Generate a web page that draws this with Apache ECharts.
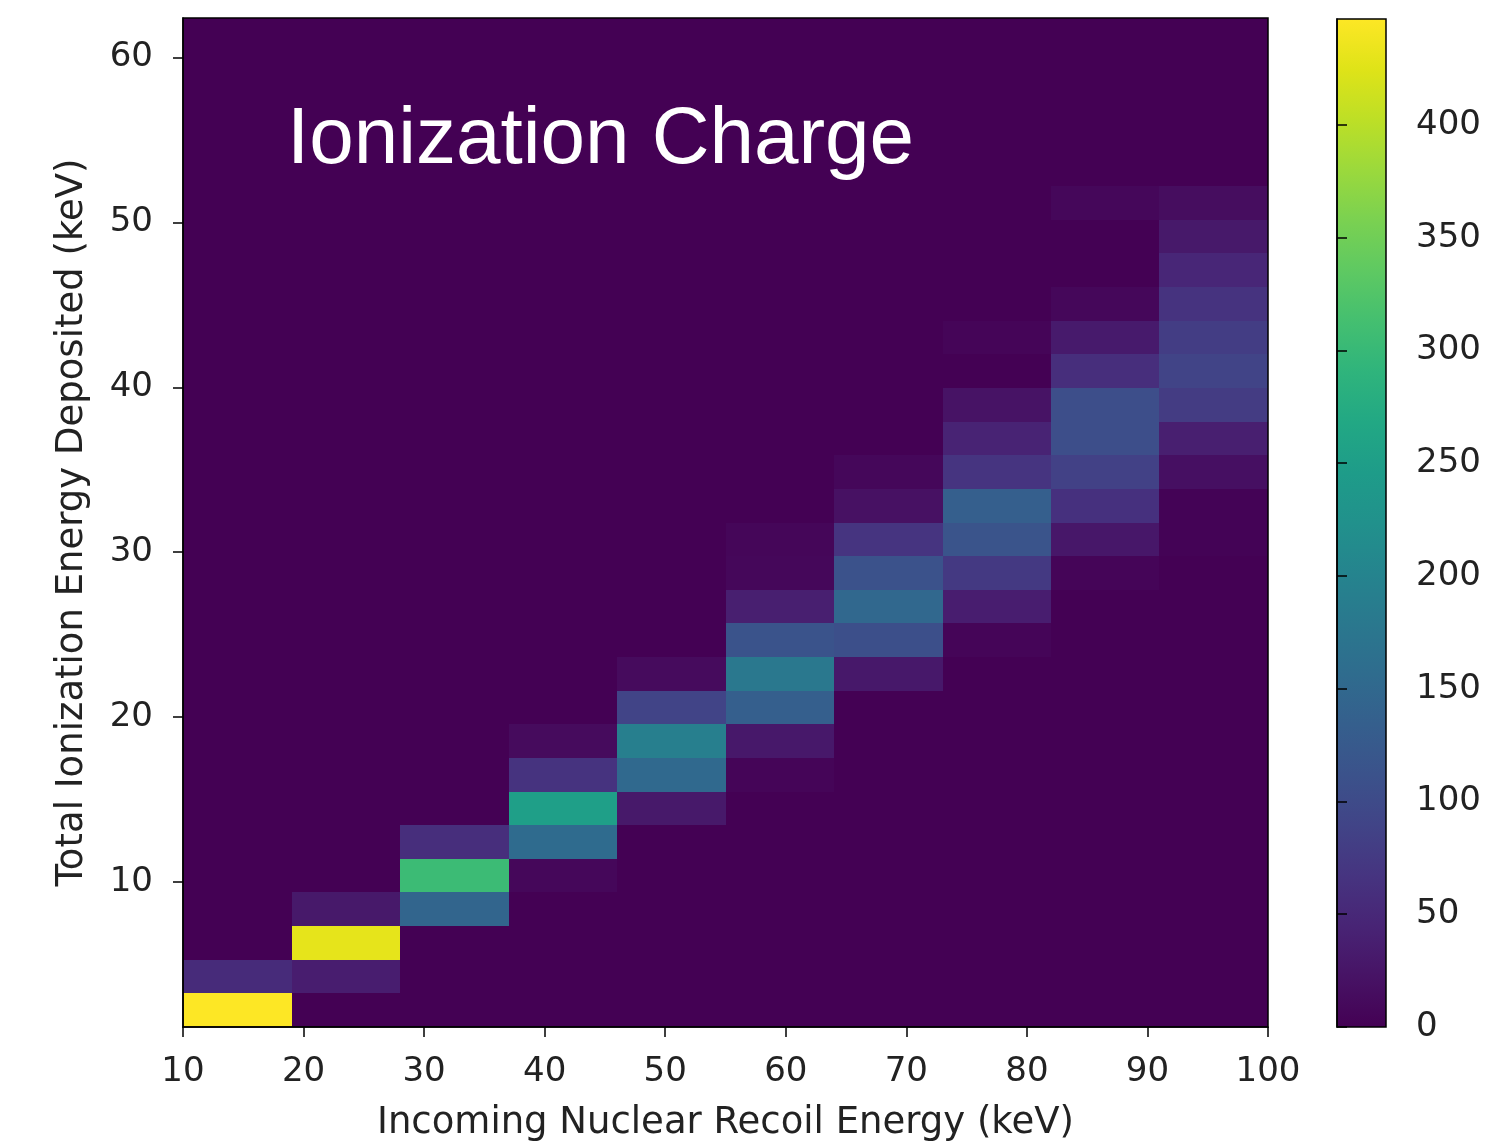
<!DOCTYPE html>
<html>
<head>
<meta charset="utf-8">
<title>Ionization Charge</title>
<script src="https://cdn.jsdelivr.net/npm/echarts@6/dist/echarts.min.js"></script>
<style>
    html, body { margin: 0; padding: 0; background: #fff; }
    #main { width: 1502px; height: 1143px; }
</style>
</head>
<body>
<div id="main"></div>
<script>
// bin edges (keV)
var xEdges = [10, 19, 28, 37, 46, 55, 64, 73, 82, 91, 100];
var yEdges = [1.2, 3.24, 5.28, 7.32, 9.36, 11.4, 13.44, 15.48, 17.52, 19.56,
    21.6, 23.64, 25.68, 27.72, 29.76, 31.8, 33.84, 35.88, 37.92, 39.96,
    42.0, 44.04, 46.08, 48.12, 50.16, 52.2, 54.24, 56.28, 58.32, 60.36, 62.4];

// counts per x bin, listed bottom to top (30 y bins)
var col0 = [447, 54, 0, 0, 0, 0, 0, 0, 0, 0,   0, 0, 0, 0, 0, 0, 0, 0, 0, 0,   0, 0, 0, 0, 0, 0, 0, 0, 0, 0];
var col1 = [0, 36, 430, 30, 0, 0, 0, 0, 0, 0,  0, 0, 0, 0, 0, 0, 0, 0, 0, 0,   0, 0, 0, 0, 0, 0, 0, 0, 0, 0];
var col2 = [0, 0, 0, 145, 304, 58, 0, 0, 0, 0, 0, 0, 0, 0, 0, 0, 0, 0, 0, 0,   0, 0, 0, 0, 0, 0, 0, 0, 0, 0];
var col3 = [0, 0, 0, 0, 8, 155, 252, 65, 12, 0, 0, 0, 0, 0, 0, 0, 0, 0, 0, 0,  0, 0, 0, 0, 0, 0, 0, 0, 0, 0];
var col4 = [0, 0, 0, 0, 0, 0, 30, 152, 192, 89, 12, 0, 0, 0, 0, 0, 0, 0, 0, 0, 0, 0, 0, 0, 0, 0, 0, 0, 0, 0];
var col5 = [0, 0, 0, 0, 0, 0, 0, 5, 29, 134,  179, 114, 38, 8, 6, 0, 0, 0, 0, 0, 0, 0, 0, 0, 0, 0, 0, 0, 0, 0];
var col6 = [0, 0, 0, 0, 0, 0, 0, 0, 0, 0,     29, 107, 150, 112, 67, 20, 8, 0, 0, 0, 0, 0, 0, 0, 0, 0, 0, 0, 0, 0];
var col7 = [0, 0, 0, 0, 0, 0, 0, 0, 0, 0,     0, 5, 36, 74, 116, 134, 67, 44, 22, 0, 5, 0, 0, 0, 0, 0, 0, 0, 0, 0];
var col8 = [0, 0, 0, 0, 0, 0, 0, 0, 0, 0,     0, 0, 0, 5, 28, 62, 85, 105, 105, 58, 32, 8, 0, 0, 8, 0, 0, 0, 0, 0];
var col9 = [0, 0, 0, 0, 0, 0, 0, 0, 0, 0,     0, 0, 0, 0, 2, 3, 18, 38, 78, 90, 80, 65, 48, 30, 15, 0, 0, 0, 0, 0];
var columns = [col0, col1, col2, col3, col4, col5, col6, col7, col8, col9];

// tick labels
var xTicks = [10, 20, 30, 40, 50, 60, 70, 80, 90, 100];
var yTicks = [10, 20, 30, 40, 50, 60];
var cbarTicks = [0, 50, 100, 150, 200, 250, 300, 350, 400];

// viridis
var viridis = ['#440154', '#471365', '#482475', '#463480', '#414487', '#3b528b', '#355f8d',
    '#2f6c8e', '#2a788e', '#25848e', '#21918c', '#1e9c89', '#22a884', '#2fb47c', '#44bf70',
    '#5ec962', '#7ad151', '#9bd93c', '#bddf26', '#dfe318', '#fde725'];

var cells = [];
var vmax = 0;
columns.forEach(function (col, i) {
    col.forEach(function (v, j) {
        cells.push([xEdges[i], xEdges[i + 1], yEdges[j], yEdges[j + 1], v]);
        if (v > vmax) vmax = v;
    });
});

var font = 'DejaVu Sans';
var tickStyle = { color: '#000', width: 1.5 };

function renderCell(params, api) {
    var p0 = api.coord([api.value(0), api.value(3)]);
    var p1 = api.coord([api.value(1), api.value(2)]);
    var x0 = Math.round(p0[0]), y0 = Math.round(p0[1]);
    var x1 = Math.round(p1[0]), y1 = Math.round(p1[1]);
    return {
        type: 'rect',
        shape: { x: x0, y: y0, width: x1 - x0, height: y1 - y0 },
        style: { fill: api.visual('color') }
    };
}

function renderBar(params, api) {
    var p0 = api.coord([api.value(0), api.value(3)]);
    var p1 = api.coord([api.value(1), api.value(2)]);
    var stops = viridis.map(function (c, k) {
        return { offset: k / (viridis.length - 1), color: c };
    });
    return {
        type: 'rect',
        shape: { x: p0[0], y: p0[1], width: p1[0] - p0[0], height: p1[1] - p0[1] },
        style: { fill: new echarts.graphic.LinearGradient(0, 1, 0, 0, stops) }
    };
}

var myChart = echarts.init(document.getElementById('main'));

var option = {
    backgroundColor: '#fff',
    animation: false,
    title: {
        text: 'Ionization Charge',
        left: 287,
        top: 101,
        padding: 0,
        z: 20,
        textStyle: { color: '#fff', fontSize: 80, fontWeight: 'normal', fontFamily: 'Liberation Sans' }
    },
    grid: [
        {
            left: 183, top: 18, width: 1085, height: 1009, outerBoundsMode: 'none',
            show: true, borderColor: '#000', borderWidth: 1.5, z: 10
        },
        {
            left: 1337, top: 19, width: 49, height: 1008, outerBoundsMode: 'none',
            show: true, borderColor: '#000', borderWidth: 1.5, z: 10
        }
    ],
    visualMap: {
        type: 'continuous',
        show: false,
        min: 0,
        max: vmax,
        dimension: 4,
        seriesIndex: 0,
        inRange: { color: viridis }
    },
    xAxis: [
        {
            gridIndex: 0, type: 'value', min: 10, max: 100, interval: 10, z: 10,
            axisLine: { show: true, onZero: false, lineStyle: tickStyle },
            axisTick: { show: true, length: 10, lineStyle: tickStyle, customValues: xTicks },
            axisLabel: { fontSize: 34, color: '#222', fontFamily: font, margin: 28, customValues: xTicks },
            splitLine: { show: false },
            name: 'Incoming Nuclear Recoil Energy (keV)',
            nameLocation: 'middle',
            nameGap: 78,
            nameTextStyle: { fontSize: 37, color: '#222', fontFamily: font }
        },
        { gridIndex: 1, type: 'value', min: 0, max: 1, show: false }
    ],
    yAxis: [
        {
            gridIndex: 0, type: 'value', min: yEdges[0], max: yEdges[yEdges.length - 1], z: 10,
            axisLine: { show: true, onZero: false, lineStyle: tickStyle },
            axisTick: { show: true, length: 10, lineStyle: tickStyle, customValues: yTicks },
            axisLabel: { fontSize: 34, color: '#222', fontFamily: font, margin: 30, customValues: yTicks },
            splitLine: { show: false },
            name: 'Total Ionization Energy Deposited (keV)',
            nameLocation: 'middle',
            nameGap: 92,
            nameTextStyle: { fontSize: 37, color: '#222', fontFamily: font }
        },
        {
            gridIndex: 1, type: 'value', position: 'right', min: 0, max: vmax, z: 10,
            axisLine: { show: true, lineStyle: tickStyle },
            axisTick: { show: true, length: 10, lineStyle: tickStyle, customValues: cbarTicks },
            axisLabel: { fontSize: 34, color: '#222', fontFamily: font, margin: 30, customValues: cbarTicks },
            splitLine: { show: false }
        }
    ],
    series: [
        {
            type: 'custom',
            xAxisIndex: 0,
            yAxisIndex: 0,
            renderItem: renderCell,
            dimensions: ['x0', 'x1', 'y0', 'y1', 'count'],
            encode: { x: [0, 1], y: [2, 3] },
            data: cells
        },
        {
            type: 'custom',
            xAxisIndex: 1,
            yAxisIndex: 1,
            renderItem: renderBar,
            encode: { x: [0, 1], y: [2, 3] },
            data: [[0, 1, 0, vmax]]
        }
    ]
};

myChart.setOption(option);
</script>
</body>
</html>
